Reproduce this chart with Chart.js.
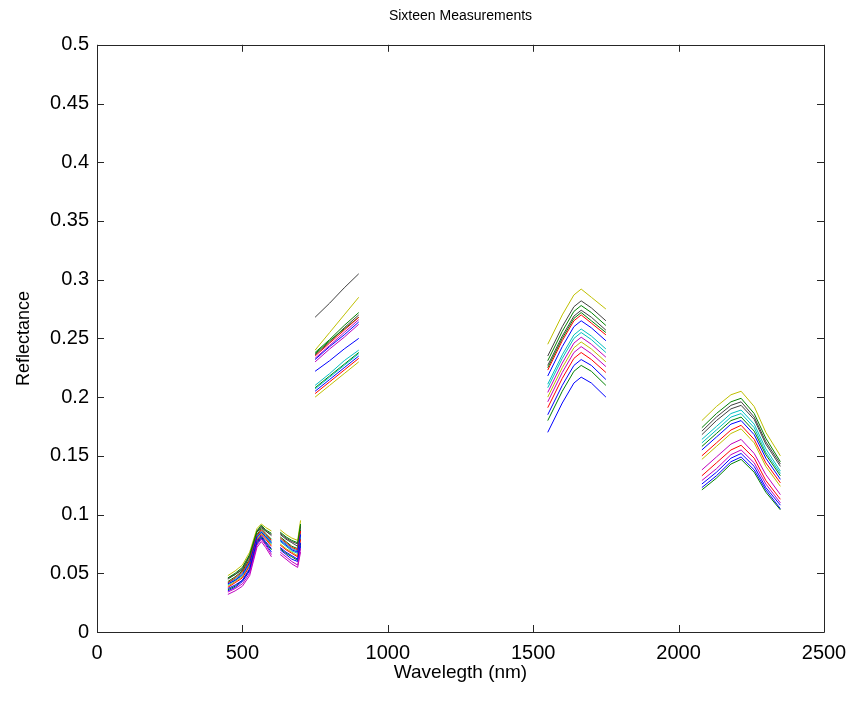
<!DOCTYPE html>
<html>
<head>
<meta charset="utf-8">
<script src="https://cdn.jsdelivr.net/npm/chart.js@4.4.1/dist/chart.umd.min.js"></script>
<style>
  html, body { margin: 0; padding: 0; background: #fff; }
  #wrap { width: 853px; height: 702px; }
</style>
</head>
<body>
<div id="wrap"><canvas id="chart" width="853" height="702"></canvas></div>
<script>
// ----------------------------------------------------------
// DATA (null = gap between measured bands)
// ----------------------------------------------------------
const wavelengths = [
    450, 475, 500, 525, 550, 565, 580, 600, 615,
    630, 650, 670, 690, 700, 725,
    750, 800, 850, 900, 1200,
    1550, 1600, 1640, 1665, 1700, 1750, 1900,
    2080, 2130, 2180, 2215, 2260, 2300, 2350
];

const m01 = [0.041,0.044,0.049,0.059,0.081,0.085,0.081,0.076,null, 0.078,0.074,0.070,0.068,0.083,null, 0.232,0.243,0.253,0.264,null, 0.218,0.243,0.260,0.265,0.259,0.248,null, 0.155,0.166,0.177,0.180,0.168,0.148,0.130];
const m02 = [0.046,0.050,0.055,0.066,0.086,0.091,0.087,0.084,null, 0.085,0.081,0.078,0.076,0.092,null, 0.238,0.249,0.261,0.272,null, 0.231,0.256,0.273,0.278,0.272,0.261,null, 0.174,0.186,0.196,0.199,0.186,0.165,0.145];
const m03 = [0.042,0.046,0.051,0.061,0.082,0.087,0.083,0.078,null, 0.080,0.076,0.072,0.070,0.086,null, 0.235,0.246,0.257,0.268,null, 0.223,0.248,0.265,0.270,0.263,0.253,null, 0.150,0.161,0.172,0.176,0.164,0.144,0.127];
const m04 = [0.042,0.045,0.050,0.060,0.082,0.086,0.082,0.077,null, 0.079,0.075,0.071,0.069,0.084,null, 0.210,0.220,0.231,0.240,null, 0.211,0.236,0.253,0.258,0.252,0.241,null, 0.164,0.175,0.186,0.189,0.177,0.156,0.137];
const m05 = [0.034,0.037,0.041,0.050,0.074,0.079,0.074,0.066,null, 0.068,0.064,0.060,0.057,0.071,null, 0.233,0.244,0.255,0.266,null, 0.204,0.229,0.246,0.251,0.245,0.234,null, 0.138,0.149,0.160,0.164,0.152,0.134,0.117];
const m06 = [0.048,0.052,0.057,0.068,0.088,0.092,0.089,0.086,null, 0.087,0.083,0.080,0.078,0.095,null, 0.240,0.255,0.270,0.285,null, 0.245,0.270,0.287,0.292,0.285,0.275,null, 0.180,0.192,0.202,0.205,0.192,0.170,0.150];
const m07 = [0.046,0.049,0.054,0.065,0.086,0.090,0.086,0.083,null, 0.084,0.080,0.077,0.075,0.091,null, 0.268,0.280,0.293,0.305,null, 0.227,0.252,0.269,0.274,0.268,0.257,null, 0.168,0.180,0.190,0.193,0.181,0.160,0.141];
const m08 = [0.037,0.040,0.044,0.054,0.077,0.082,0.077,0.071,null, 0.072,0.068,0.065,0.062,0.076,null, 0.222,0.231,0.241,0.250,null, 0.185,0.210,0.227,0.232,0.227,0.215,null, 0.126,0.136,0.148,0.152,0.141,0.123,0.108];
const m09 = [0.043,0.047,0.052,0.062,0.083,0.088,0.084,0.079,null, 0.081,0.077,0.073,0.071,0.087,null, 0.237,0.248,0.258,0.268,null, 0.225,0.250,0.267,0.272,0.265,0.255,null, 0.158,0.169,0.180,0.183,0.171,0.151,0.133];
const m10 = [0.038,0.042,0.046,0.056,0.078,0.083,0.079,0.073,null, 0.074,0.070,0.067,0.064,0.079,null, 0.203,0.213,0.223,0.233,null, 0.191,0.216,0.233,0.238,0.232,0.221,null, 0.133,0.144,0.155,0.159,0.148,0.129,0.113];
const m11 = [0.040,0.044,0.048,0.058,0.080,0.085,0.081,0.075,null, 0.077,0.073,0.069,0.067,0.082,null, 0.207,0.217,0.227,0.237,null, 0.208,0.233,0.250,0.255,0.249,0.238,null, 0.161,0.172,0.183,0.186,0.174,0.153,0.135];
const m12 = [0.032,0.035,0.039,0.048,0.072,0.077,0.072,0.064,null, 0.066,0.062,0.058,0.055,0.068,null, 0.230,0.241,0.251,0.262,null, 0.196,0.221,0.238,0.243,0.237,0.226,null, 0.129,0.139,0.151,0.155,0.144,0.126,0.110];
const m13 = [0.039,0.043,0.047,0.057,0.079,0.084,0.080,0.074,null, 0.075,0.071,0.068,0.065,0.080,null, 0.200,0.210,0.220,0.230,null, 0.200,0.225,0.242,0.247,0.241,0.230,null, 0.147,0.158,0.169,0.173,0.161,0.141,0.124];
const m14 = [0.045,0.049,0.053,0.064,0.085,0.089,0.086,0.082,null, 0.083,0.079,0.076,0.073,0.090,null, 0.236,0.247,0.259,0.270,null, 0.235,0.260,0.277,0.282,0.276,0.265,null, 0.171,0.183,0.193,0.196,0.183,0.162,0.143];
const m15 = [0.035,0.038,0.043,0.052,0.075,0.080,0.075,0.068,null, 0.070,0.066,0.062,0.060,0.073,null, 0.205,0.215,0.225,0.235,null, 0.170,0.195,0.212,0.217,0.212,0.200,null, 0.123,0.133,0.145,0.149,0.138,0.121,0.105];
const m16 = [0.036,0.039,0.044,0.053,0.076,0.081,0.076,0.070,null, 0.071,0.067,0.064,0.061,0.075,null, 0.208,0.218,0.228,0.238,null, 0.180,0.205,0.222,0.227,0.222,0.210,null, 0.121,0.131,0.143,0.147,0.136,0.119,0.104];

const measurements = [m01, m02, m03, m04, m05, m06, m07, m08, m09, m10, m11, m12, m13, m14, m15, m16];

const xTicks = [0, 500, 1000, 1500, 2000, 2500];
const yTicks = [0, 0.05, 0.1, 0.15, 0.2, 0.25, 0.3, 0.35, 0.4, 0.45, 0.5];

// old MATLAB colour order, cycled
const colorOrder = ["#0000ff", "#008000", "#ff0000", "#00bfbf", "#bf00bf", "#bfbf00", "#404040"];

const FONT = "'Liberation Sans', Arial, sans-serif";

// ----------------------------------------------------------
// BOX + INWARD TICKS (matlab style)
// ----------------------------------------------------------
const boxTicks = {
    id: "boxTicks",
    afterDraw(chart) {
        const ctx = chart.ctx;
        const a = chart.chartArea;
        const xs = chart.scales.x, ys = chart.scales.y;
        const len = 7;
        ctx.save();
        ctx.strokeStyle = "#262626";
        ctx.lineWidth = 1;
        ctx.beginPath();
        ctx.rect(Math.round(a.left) + 0.5, Math.round(a.top) + 0.5,
                 Math.round(a.right - a.left), Math.round(a.bottom - a.top));
        xTicks.forEach(v => {
            const px = Math.round(xs.getPixelForValue(v)) + 0.5;
            ctx.moveTo(px, a.bottom); ctx.lineTo(px, a.bottom - len);
            ctx.moveTo(px, a.top); ctx.lineTo(px, a.top + len);
        });
        yTicks.forEach(v => {
            const py = Math.round(ys.getPixelForValue(v)) + 0.5;
            ctx.moveTo(a.left, py); ctx.lineTo(a.left + len, py);
            ctx.moveTo(a.right, py); ctx.lineTo(a.right - len, py);
        });
        ctx.stroke();
        ctx.restore();
    }
};

// ----------------------------------------------------------
// CHART
// ----------------------------------------------------------
const datasets = measurements.map((vals, i) => ({
    label: "Measurement " + (i + 1),
    data: vals.map((v, j) => ({ x: wavelengths[j], y: v })),
    borderColor: colorOrder[i % colorOrder.length],
    borderWidth: 1,
    pointRadius: 0,
    spanGaps: false,
    tension: 0
}));

new Chart(document.getElementById("chart"), {
    type: "line",
    data: { datasets: datasets },
    options: {
        responsive: false,
        animation: false,
        layout: { padding: { left: 0, right: 29, top: 0, bottom: 0 } },
        plugins: {
            legend: { display: false },
            tooltip: { enabled: false },
            title: {
                display: true,
                fullSize: false,
                text: "Sixteen Measurements",
                color: "#000",
                font: { family: FONT, size: 14, weight: "normal" },
                padding: { top: 8, bottom: 20 }
            }
        },
        scales: {
            x: {
                type: "linear",
                min: 0, max: 2500,
                afterBuildTicks: s => { s.ticks = xTicks.map(v => ({ value: v })); },
                afterFit: s => { s.height = 70; },
                grid: { display: false },
                border: { display: false },
                ticks: {
                    color: "#000", font: { family: FONT, size: 20 }, padding: 1, maxRotation: 0,
                    callback: v => String(v)
                },
                title: {
                    display: true, text: "Wavelegth (nm)", color: "#000",
                    font: { family: FONT, size: 19 }, padding: { top: 0, bottom: 18 }
                }
            },
            y: {
                min: 0, max: 0.5,
                afterBuildTicks: s => { s.ticks = yTicks.map(v => ({ value: v })); },
                afterFit: s => { s.width = 97; },
                grid: { display: false },
                border: { display: false },
                ticks: {
                    color: "#000", font: { family: FONT, size: 20 }, padding: 0,
                    callback: v => String(Number(v.toFixed(2)))
                },
                title: {
                    display: true, text: "Reflectance", color: "#000",
                    font: { family: FONT, size: 18 }, padding: { top: 13, bottom: 0 }
                }
            }
        }
    },
    plugins: [boxTicks]
});
</script>
</body>
</html>
